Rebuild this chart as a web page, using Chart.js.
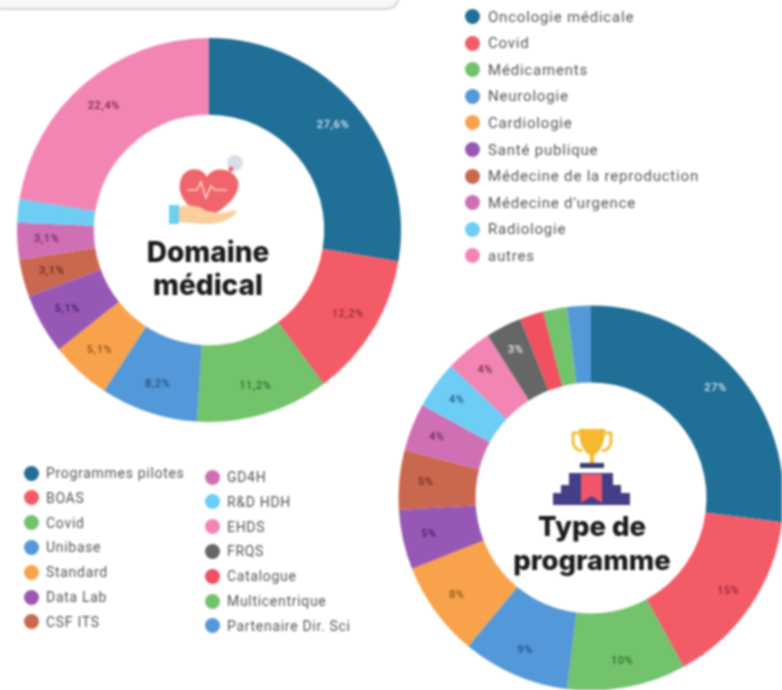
<!DOCTYPE html>
<html>
<head>
<meta charset="utf-8">
<script src="https://cdn.jsdelivr.net/npm/chart.js@4"></script>
<style>
html { background: #fff; }
html, body { margin: 0; padding: 0; }
body { position: relative; width: 782px; height: 690px; overflow: hidden; font-family: Roboto, sans-serif; filter: blur(1px); }
#topbar { position: absolute; left: -10px; top: -10px; width: 408px; height: 18px; background: #f7f7f7; border: 1px solid #d4d4d4; border-width: 0 2px 2px 0; border-radius: 0 0 14px 0; }
.ring { position: absolute; }
.center-title { position: absolute; text-align: center; font-family: "Inter", sans-serif; font-weight: 800; color: #1a1a1a; }
.legend-item { position: absolute; color: #555; line-height: 16px; white-space: nowrap; }
.legend-top { font-size: 15px; letter-spacing: 0.8px; }
.legend-bottom { font-size: 14px; letter-spacing: 0.7px; }
.legend-item i { position: absolute; top: 0.5px; width: 15px; height: 15px; border-radius: 50%; }
.legend-top i { left: -23px; }
.legend-bottom i { left: -22px; }
svg { position: absolute; }
</style>
</head>
<body>
<div id="topbar"></div>

<div class="ring" style="left:-1px;top:20px;width:420px;height:420px"><canvas id="medical"></canvas></div>
<div class="ring" style="left:381px;top:288px;width:420px;height:420px"><canvas id="program"></canvas></div>

<!-- heart in a hand -->
<svg style="left:165px;top:155px" width="85" height="80" viewBox="0 0 85 80">
	<circle cx="70" cy="8" r="8" fill="#d9dfe8"/>
	<circle cx="66" cy="14" r="2.5" fill="#f0646c"/>
	<path d="M42 63 C20 52 11 38 16 24 C21 11 37 12 42 22 C47 11 68 12 73 26 C76 40 60 54 42 63Z" fill="#f0646c"/>
	<path d="M22 35 H32 L36 27 L41 43 L46 31 L50 35 H62" fill="none" stroke="#fbd0c8" stroke-width="1.6"/>
	<rect x="4" y="50" width="10" height="19" fill="#6ccff0"/>
	<path d="M14 52 C26 48 34 52 42 56 L54 58 C62 58 70 54 72 56 C68 64 54 70 40 69 L14 67Z" fill="#f8cf9d"/>
</svg>
<div class="center-title" style="left:128px;top:236px;width:160px;font-size:28px;line-height:33px">Domaine<br>médical</div>

<!-- trophy on a podium -->
<svg style="left:545px;top:425px" width="94" height="85" viewBox="0 0 94 85">
	<path d="M34 8 H28 V16 C28 22 32 25 37 26 M60 8 H66 V16 C66 22 62 25 57 26" fill="none" stroke="#f3c13a" stroke-width="3"/>
	<path d="M34 4 H60 C60 20 54 28 49 30 V38 H45 V30 C40 28 34 20 34 4Z" fill="#f5b82e"/>
	<rect x="35" y="38" width="24" height="5" fill="#3b3a6b"/>
	<path d="M8 80 V68 H16 V60 H24 V48 H68 V60 H76 V68 H85 V80Z" fill="#423f86"/>
	<path d="M36 49 H57 V78 L46.5 71 L36 78Z" fill="#f0566a"/>
</svg>
<div class="center-title" style="left:497px;top:509px;width:190px;font-size:27.5px;line-height:34px">Type de<br>programme</div>

<script>
// Domaine medical
const medicalLabels = ["Oncologie médicale", "Covid", "Médicaments", "Neurologie", "Cardiologie", "Santé publique", "Médecine de la reproduction", "Médecine d'urgence", "Radiologie", "autres"];
const medicalValues = [27.6, 12.2, 11.2, 8.2, 5.1, 5.1, 3.1, 3.1, 2.0, 22.4];
const medicalColors = ["#1f6f97", "#f35b67", "#73c26c", "#5398d8", "#f9a24c", "#9758b5", "#c9674f", "#cf6fb4", "#6dcdf5", "#f285b3"];

// Type de programme
const programLabels = ["Programmes pilotes", "BOAS", "Covid", "Unibase", "Standard", "Data Lab", "CSF ITS", "GD4H", "R&D HDH", "EHDS", "FRQS", "Catalogue", "Multicentrique", "Partenaire Dir. Sci"];
const programValues = [27, 15, 10, 9, 8, 5, 5, 4, 4, 4, 3, 2, 2, 2];
const programColors = ["#1f6f97", "#f35b67", "#73c26c", "#5398d8", "#f9a24c", "#9758b5", "#c9674f", "#cf6fb4", "#6dcdf5", "#f285b3", "#666666", "#f0505f", "#73c26c", "#5398d8"];

const labelColors = ["#d6e6ee", "#8f2a36", "#2f6e33", "#1f4f80", "#8a5519", "#3f1f5c", "#6e2a1c", "#6e2a62", "#1f5f80", "#7a2a55", "#e8e8e8"];

function percentText(value, decimals) {
	return value.toFixed(decimals).replace(".", ",") + "%";
}

// draws the value on each slice, a bit outside the ring middle; small slices stay empty
const sliceLabels = {
	id: "sliceLabels",
	afterDatasetsDraw(chart, args, options) {
		const ctx = chart.ctx;
		const values = chart.data.datasets[0].data;
		ctx.save();
		ctx.font = "500 11px Roboto, sans-serif";
		ctx.letterSpacing = "0.6px";
		ctx.textAlign = "center";
		ctx.textBaseline = "middle";
		chart.getDatasetMeta(0).data.forEach((arc, i) => {
			if (values[i] <= options.minValue)
				return;
			const mid = (arc.startAngle + arc.endAngle) / 2;
			const r = (arc.innerRadius + arc.outerRadius) / 2 + options.offset;
			ctx.fillStyle = labelColors[i];
			ctx.fillText(percentText(values[i], options.decimals), arc.x + Math.cos(mid) * r, arc.y + Math.sin(mid) * r);
		});
		ctx.restore();
	}
};

function drawRing(id, labels, values, colors, radius, decimals, offset) {
	return new Chart(document.getElementById(id), {
		type: "doughnut",
		data: {
			labels,
			datasets: [{ data: values, backgroundColor: colors, borderWidth: 0 }]
		},
		options: {
			responsive: true,
			maintainAspectRatio: false,
			animation: false,
			radius,
			cutout: "60%",
			layout: { padding: 0 },
			plugins: {
				legend: { display: false },
				tooltip: { enabled: false },
				sliceLabels: { decimals, offset, minValue: 2 }
			}
		},
		plugins: [sliceLabels]
	});
}

function addLegend(labels, colors, first, count, x, y, step, cls) {
	for (let i = 0; i < count; i++) {
		const item = document.createElement("div");
		item.className = "legend-item " + cls;
		item.style.left = x + "px";
		item.style.top = (y + i * step) + "px";
		item.textContent = labels[first + i];
		const dot = document.createElement("i");
		dot.style.background = colors[first + i];
		item.appendChild(dot);
		document.body.appendChild(item);
	}
}

drawRing("medical", medicalLabels, medicalValues, medicalColors, 192, 1, 9);
drawRing("program", programLabels, programValues, programColors, 192.5, 0, 12);

addLegend(medicalLabels, medicalColors, 0, 10, 488, 8.5, 26.6, "legend-top");
addLegend(programLabels, programColors, 0, 7, 46, 465, 24.8, "legend-bottom");
addLegend(programLabels, programColors, 7, 7, 227, 469, 24.8, "legend-bottom");
</script>
</body>
</html>
